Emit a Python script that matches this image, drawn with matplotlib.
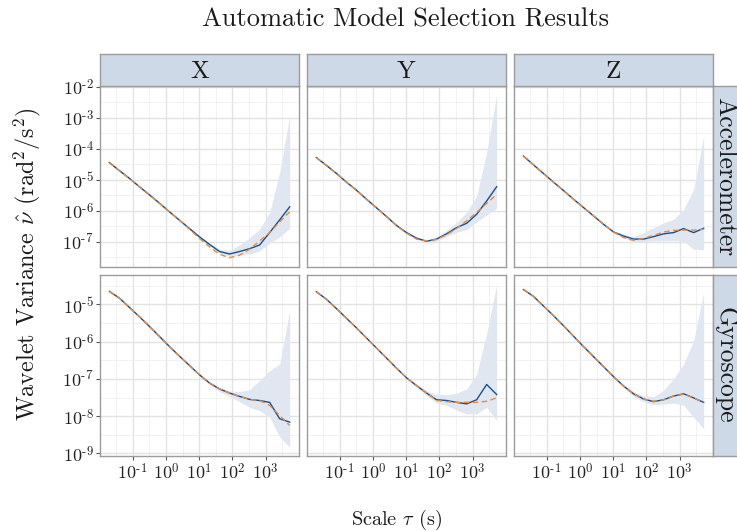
import numpy as np
import matplotlib
matplotlib.use('Agg')
import matplotlib.pyplot as plt
from matplotlib.ticker import FixedLocator, FixedFormatter, NullFormatter

plt.rcParams['font.family'] = ['cmr10', 'DejaVu Serif']
plt.rcParams['mathtext.fontset'] = 'cm'
plt.rcParams['axes.unicode_minus'] = False

# scales tau (s): 0.02 * 2^j
tau = [0.02, 0.04, 0.08, 0.16, 0.32, 0.64, 1.28, 2.56, 5.12, 10.24, 20.48,
       40.96, 81.92, 163.84, 327.68, 655.36, 1310.72, 2621.44, 5242.88]

# all values below are log10 of the wavelet variance
acc_x_data = [-4.45, -4.71, -4.96, -5.23, -5.49, -5.76, -6.04, -6.31, -6.58, -6.85,
              -7.09, -7.32, -7.40, -7.32, -7.23, -7.11, -6.71, -6.30, -5.88]
acc_x_model = [-4.45, -4.71, -4.96, -5.23, -5.49, -5.76, -6.04, -6.31, -6.60, -6.90,
               -7.17, -7.41, -7.52, -7.44, -7.25, -6.98, -6.71, -6.37, -6.04]
acc_x_lo = [-4.48, -4.74, -4.99, -5.26, -5.52, -5.79, -6.07, -6.34, -6.62, -6.90,
            -7.14, -7.38, -7.48, -7.42, -7.40, -7.30, -7.05, -6.85, -6.57]
acc_x_hi = [-4.42, -4.68, -4.93, -5.20, -5.46, -5.73, -6.01, -6.28, -6.54, -6.80,
            -7.04, -7.25, -7.28, -7.11, -6.87, -6.60, -6.06, -4.77, -2.95]

acc_y_data = [-4.29, -4.54, -4.80, -5.08, -5.34, -5.63, -5.91, -6.19, -6.48, -6.71,
              -6.89, -6.99, -6.92, -6.75, -6.55, -6.41, -6.12, -5.69, -5.23]
acc_y_model = [-4.29, -4.54, -4.80, -5.08, -5.34, -5.63, -5.91, -6.19, -6.48, -6.73,
               -6.92, -6.98, -6.93, -6.78, -6.58, -6.33, -6.06, -5.77, -5.47]
acc_y_lo = [-4.32, -4.57, -4.83, -5.11, -5.37, -5.66, -5.94, -6.22, -6.51, -6.75,
            -6.93, -7.03, -6.99, -6.84, -6.70, -6.62, -6.36, -6.14, -5.92]
acc_y_hi = [-4.26, -4.51, -4.77, -5.05, -5.31, -5.60, -5.88, -6.16, -6.45, -6.67,
            -6.85, -6.94, -6.86, -6.64, -6.38, -6.06, -5.53, -4.13, -2.25]

acc_z_data = [-4.24, -4.52, -4.80, -5.08, -5.35, -5.63, -5.90, -6.17, -6.44, -6.69,
              -6.82, -6.92, -6.92, -6.84, -6.75, -6.71, -6.58, -6.71, -6.57]
acc_z_model = [-4.24, -4.52, -4.80, -5.08, -5.35, -5.63, -5.90, -6.17, -6.44, -6.69,
               -6.87, -6.96, -6.90, -6.80, -6.69, -6.64, -6.63, -6.63, -6.60]
acc_z_lo = [-4.27, -4.55, -4.83, -5.11, -5.38, -5.66, -5.93, -6.20, -6.47, -6.72,
            -6.88, -7.00, -7.00, -6.98, -6.97, -6.97, -6.99, -7.25, -7.27]
acc_z_hi = [-4.21, -4.49, -4.77, -5.05, -5.32, -5.60, -5.87, -6.14, -6.41, -6.65,
            -6.76, -6.84, -6.71, -6.55, -6.39, -6.28, -5.96, -5.31, -3.59]

gyr_x_data = [-4.65, -4.83, -5.08, -5.33, -5.59, -5.86, -6.13, -6.39, -6.64, -6.89,
              -7.11, -7.27, -7.38, -7.47, -7.55, -7.58, -7.63, -8.07, -8.16]
gyr_x_model = [-4.65, -4.83, -5.08, -5.33, -5.59, -5.86, -6.13, -6.39, -6.64, -6.89,
               -7.11, -7.27, -7.38, -7.47, -7.55, -7.58, -7.71, -7.98, -8.25]
gyr_x_lo = [-4.67, -4.85, -5.10, -5.35, -5.61, -5.88, -6.15, -6.41, -6.66, -6.91,
            -7.15, -7.34, -7.48, -7.61, -7.76, -7.85, -8.03, -8.56, -8.83]
gyr_x_hi = [-4.63, -4.81, -5.06, -5.31, -5.57, -5.84, -6.11, -6.37, -6.62, -6.87,
            -7.08, -7.23, -7.32, -7.34, -7.29, -7.04, -6.78, -6.60, -5.17]

gyr_y_data = [-4.66, -4.86, -5.11, -5.37, -5.63, -5.90, -6.17, -6.44, -6.71, -6.97,
              -7.18, -7.38, -7.56, -7.58, -7.63, -7.67, -7.56, -7.15, -7.42]
gyr_y_model = [-4.66, -4.86, -5.11, -5.37, -5.63, -5.90, -6.17, -6.44, -6.71, -6.97,
               -7.18, -7.38, -7.58, -7.61, -7.63, -7.63, -7.63, -7.60, -7.51]
gyr_y_lo = [-4.68, -4.88, -5.13, -5.39, -5.65, -5.92, -6.19, -6.46, -6.73, -7.00,
            -7.22, -7.45, -7.65, -7.71, -7.84, -7.94, -7.94, -7.76, -8.12]
gyr_y_hi = [-4.64, -4.84, -5.09, -5.35, -5.61, -5.88, -6.15, -6.42, -6.69, -6.95,
            -7.15, -7.32, -7.41, -7.43, -7.38, -7.27, -6.87, -5.79, -4.46]

gyr_z_data = [-4.60, -4.78, -5.04, -5.30, -5.57, -5.85, -6.13, -6.40, -6.67, -6.94,
              -7.19, -7.40, -7.54, -7.61, -7.56, -7.46, -7.40, -7.51, -7.63]
gyr_z_model = [-4.60, -4.78, -5.04, -5.30, -5.57, -5.85, -6.13, -6.40, -6.67, -6.94,
               -7.19, -7.40, -7.54, -7.60, -7.56, -7.46, -7.41, -7.51, -7.63]
gyr_z_lo = [-4.62, -4.80, -5.06, -5.32, -5.59, -5.87, -6.15, -6.42, -6.70, -6.97,
            -7.23, -7.47, -7.62, -7.69, -7.68, -7.65, -7.71, -8.03, -8.34]
gyr_z_hi = [-4.58, -4.76, -5.02, -5.28, -5.55, -5.83, -6.11, -6.38, -6.64, -6.91,
            -7.16, -7.34, -7.45, -7.48, -7.30, -7.00, -6.60, -5.97, -4.68]

col_labels = ['X', 'Y', 'Z']
row_labels = ['Accelerometer', 'Gyroscope']

panels = [
    [(acc_x_data, acc_x_model, acc_x_lo, acc_x_hi),
     (acc_y_data, acc_y_model, acc_y_lo, acc_y_hi),
     (acc_z_data, acc_z_model, acc_z_lo, acc_z_hi)],
    [(gyr_x_data, gyr_x_model, gyr_x_lo, gyr_x_hi),
     (gyr_y_data, gyr_y_model, gyr_y_lo, gyr_y_hi),
     (gyr_z_data, gyr_z_model, gyr_z_lo, gyr_z_hi)],
]

row_ylim = [(-7.82, -1.98), (-9.07, -4.21)]
row_yticks = [range(-7, -1), range(-9, -4)]
x_ticks = range(-1, 4)

W, H = 737, 531
fig = plt.figure(figsize=(W / 100, H / 100), dpi=100)


def box(l, t, w, h):
    return [l / W, 1 - (t + h) / H, w / W, h / H]


def pow_label(k):
    # short hyphen like the reference, not a long minus
    if k < 0:
        return r'$10^{\text{-}%d}$' % (-k)
    return r'$10^{%d}$' % k


col_left = [100, 307, 514]
row_top = [86, 275]
pw, ph = 199, 181
border = '#9c9c9c'
strip_bg = '#cdd9e7'

for r in range(2):
    for c in range(3):
        ax = fig.add_axes(box(col_left[c], row_top[r], pw, ph))
        data, model, lo, hi = panels[r][c]
        ax.fill_between(tau, 10 ** np.array(lo), 10 ** np.array(hi),
                        color='#e1e7f0', lw=0, zorder=2)
        ax.plot(tau, 10 ** np.array(data), color='#16508f', lw=1.0, zorder=3)
        ax.plot(tau, 10 ** np.array(model), color='#ec8a3c', lw=1.0,
                dashes=(4, 2.5), zorder=4)
        ax.set_xscale('log')
        ax.set_yscale('log')
        ax.set_xlim(10 ** -1.98, 10 ** 4.0)
        ax.set_ylim(10 ** row_ylim[r][0], 10 ** row_ylim[r][1])

        yt = list(row_yticks[r])
        ax.yaxis.set_major_locator(FixedLocator([10.0 ** k for k in yt]))
        ax.yaxis.set_minor_locator(FixedLocator([10.0 ** (k + 0.5) for k in range(yt[0] - 1, yt[-1] + 1)]))
        ax.xaxis.set_major_locator(FixedLocator([10.0 ** k for k in x_ticks]))
        ax.xaxis.set_minor_locator(FixedLocator([10.0 ** (k + 0.5) for k in range(-2, 4)]))
        ax.xaxis.set_minor_formatter(NullFormatter())
        ax.yaxis.set_minor_formatter(NullFormatter())
        if c == 0:
            ax.yaxis.set_major_formatter(FixedFormatter([pow_label(k) for k in yt]))
        else:
            ax.yaxis.set_major_formatter(NullFormatter())
        if r == 1:
            ax.xaxis.set_major_formatter(FixedFormatter([pow_label(k) for k in x_ticks]))
        else:
            ax.xaxis.set_major_formatter(NullFormatter())

        ax.tick_params(which='major', length=3, width=0.8, color='#555555',
                       labelsize=13, pad=1.5, labelcolor='#222222',
                       left=(c == 0), bottom=(r == 1))
        ax.tick_params(which='minor', length=0)
        ax.grid(which='major', color='#e3e3e3', lw=1.0, zorder=0)
        ax.grid(which='minor', color='#f0f0f0', lw=0.6, zorder=0)
        ax.set_axisbelow(True)
        for s in ax.spines.values():
            s.set_color(border)
            s.set_linewidth(1.0)

# column strips
for c in range(3):
    sax = fig.add_axes(box(col_left[c], 54, pw, 32))
    sax.set_facecolor(strip_bg)
    sax.set_xticks([])
    sax.set_yticks([])
    for s in sax.spines.values():
        s.set_color(border)
        s.set_linewidth(1.0)
    sax.text(0.5, 0.45, col_labels[c], ha='center', va='center',
             fontsize=18, color='#1a1a1a', transform=sax.transAxes)

# row strips
for r in range(2):
    sax = fig.add_axes(box(713, row_top[r], 27, ph))
    sax.set_facecolor(strip_bg)
    sax.set_xticks([])
    sax.set_yticks([])
    for s in sax.spines.values():
        s.set_color(border)
        s.set_linewidth(1.0)
    sax.text(0.45, 0.5, row_labels[r], ha='center', va='center', rotation=-90,
             fontsize=18.5, color='#1a1a1a', transform=sax.transAxes)

fig.text(405 / W, 1 - 20 / H, 'Automatic Model Selection Results',
         ha='center', va='center', fontsize=19, color='#1a1a1a')
fig.text(397 / W, 1 - 520 / H, r'Scale $\tau$ (s)',
         ha='center', va='center', fontsize=14.6, color='#1a1a1a')
fig.text(27 / W, 1 - 264 / H, r'Wavelet Variance $\hat{\nu}$ (rad$^2$/s$^2$)',
         ha='center', va='center', rotation=90, fontsize=17.4, color='#1a1a1a')

fig.savefig('out.png', dpi=100)
